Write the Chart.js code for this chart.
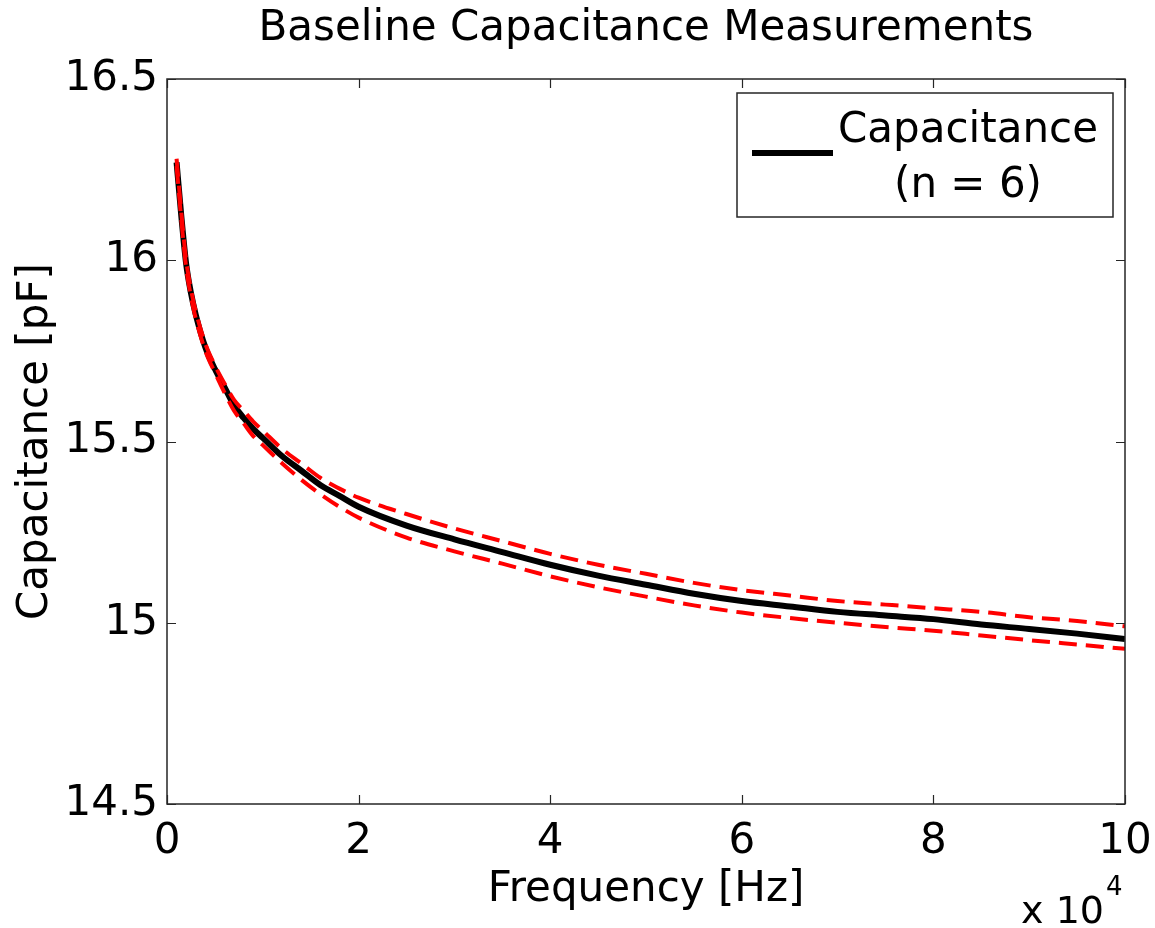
<!DOCTYPE html>
<html>
<head>
<meta charset="utf-8">
<title>Baseline Capacitance Measurements</title>
<script src="https://cdn.jsdelivr.net/npm/chart.js@4.4.1/dist/chart.umd.min.js"></script>
<style>
  html, body { margin: 0; padding: 0; background: #fff; }
  #wrap { width: 1155px; height: 928px; }
</style>
</head>
<body>
<div id="wrap"><canvas id="capChart" width="1155" height="928"></canvas></div>
<script>
// frequency in Hz, capacitance in pF
const freqs = [1000, 1500, 2000, 2500, 3000, 4000, 5000, 6000, 7000, 8000, 9000, 10000,
  12000, 14000, 16000, 18000, 20000, 25000, 30000, 35000, 40000, 45000, 50000, 55000,
  60000, 65000, 70000, 75000, 80000, 85000, 90000, 95000, 100000];

const meanCap = [16.27, 16.12, 15.99, 15.91, 15.85, 15.76, 15.70, 15.65, 15.60, 15.565, 15.535, 15.51,
  15.46, 15.42, 15.38, 15.35, 15.32, 15.268, 15.23, 15.195, 15.16, 15.13, 15.105, 15.08,
  15.06, 15.045, 15.03, 15.02, 15.01, 14.995, 14.983, 14.97, 14.955];

const upperCap = [16.28, 16.13, 16.00, 15.92, 15.86, 15.77, 15.71, 15.66, 15.615, 15.585, 15.555, 15.53,
  15.48, 15.44, 15.40, 15.37, 15.345, 15.30, 15.26, 15.225, 15.19, 15.16, 15.135, 15.11,
  15.09, 15.075, 15.06, 15.05, 15.04, 15.03, 15.015, 15.005, 14.99];

const lowerCap = [16.26, 16.11, 15.98, 15.90, 15.84, 15.75, 15.69, 15.635, 15.585, 15.55, 15.515, 15.49,
  15.44, 15.395, 15.355, 15.32, 15.29, 15.235, 15.197, 15.163, 15.128, 15.098, 15.072, 15.048,
  15.028, 15.013, 15.00, 14.988, 14.978, 14.965, 14.952, 14.94, 14.928];

const xTicks = [0, 20000, 40000, 60000, 80000, 100000];
const yTicks = [14.5, 15, 15.5, 16, 16.5];

const FONT = "'DejaVu Sans', 'Liberation Sans', Arial, sans-serif";

function toXY(ys) {
  return freqs.map((f, i) => ({ x: f, y: ys[i] }));
}

// matlab style box, inward ticks on all four sides, title, exponent and legend
const matlabFrame = {
  id: 'matlabFrame',
  afterDraw(chart) {
    const ctx = chart.ctx;
    const a = chart.chartArea;
    const xs = chart.scales.x;
    const ys = chart.scales.y;
    const tl = 9;

    ctx.save();
    ctx.strokeStyle = '#262626';
    ctx.lineWidth = 1.5;
    ctx.strokeRect(a.left, a.top, a.right - a.left, a.bottom - a.top);

    ctx.beginPath();
    xTicks.forEach(v => {
      const px = Math.round(xs.getPixelForValue(v)) + 0.5;
      ctx.moveTo(px, a.bottom); ctx.lineTo(px, a.bottom - tl);
      ctx.moveTo(px, a.top); ctx.lineTo(px, a.top + tl);
    });
    yTicks.forEach(v => {
      const py = Math.round(ys.getPixelForValue(v)) + 0.5;
      ctx.moveTo(a.left, py); ctx.lineTo(a.left + tl, py);
      ctx.moveTo(a.right, py); ctx.lineTo(a.right - tl, py);
    });
    ctx.lineWidth = 1.2;
    ctx.stroke();

    // title
    ctx.fillStyle = '#000';
    ctx.font = '42px ' + FONT;
    ctx.textAlign = 'center';
    ctx.textBaseline = 'middle';
    ctx.fillText('Baseline Capacitance Measurements', (a.left + a.right) / 2, 29);

    // exponent label under the x axis
    ctx.font = '38px ' + FONT;
    ctx.textAlign = 'right';
    ctx.textBaseline = 'alphabetic';
    ctx.fillText('x 10', a.right - 21, 923);
    ctx.font = '26px ' + FONT;
    ctx.textAlign = 'left';
    ctx.fillText('4', a.right - 19, 895);

    // legend
    const ds = chart.data.datasets[0];
    const bx = a.right - 388, by = a.top + 14, bw = 376, bh = 124;
    ctx.fillStyle = '#fff';
    ctx.fillRect(bx, by, bw, bh);
    ctx.strokeStyle = '#262626';
    ctx.lineWidth = 1.5;
    ctx.strokeRect(bx, by, bw, bh);

    ctx.strokeStyle = ds.borderColor;
    ctx.lineWidth = ds.borderWidth;
    ctx.beginPath();
    ctx.moveTo(bx + 15, by + 60);
    ctx.lineTo(bx + 96, by + 60);
    ctx.stroke();

    ctx.fillStyle = '#000';
    ctx.font = '42px ' + FONT;
    ctx.textAlign = 'center';
    ctx.textBaseline = 'middle';
    ds.label.forEach((line, i) => {
      ctx.fillText(line, bx + 231, by + 38 + i * 55);
    });
    ctx.restore();
  }
};

const ctx = document.getElementById('capChart').getContext('2d');
window.myChart = new Chart(ctx, {
  type: 'line',
  data: {
    datasets: [
      {
        label: ['Capacitance', '(n = 6)'],
        data: toXY(meanCap),
        borderColor: '#000000',
        borderWidth: 6,
        pointRadius: 0,
        cubicInterpolationMode: 'monotone',
        order: 2
      },
      {
        label: 'upper',
        data: toXY(upperCap),
        borderColor: '#ff0000',
        borderWidth: 4,
        borderDash: [18, 9],
        pointRadius: 0,
        cubicInterpolationMode: 'monotone',
        order: 1
      },
      {
        label: 'lower',
        data: toXY(lowerCap),
        borderColor: '#ff0000',
        borderWidth: 4,
        borderDash: [18, 9],
        pointRadius: 0,
        cubicInterpolationMode: 'monotone',
        order: 1
      }
    ]
  },
  options: {
    responsive: false,
    animation: false,
    layout: { padding: { top: 79, right: 30, left: 0, bottom: 0 } },
    plugins: {
      legend: { display: false },
      title: { display: false },
      tooltip: { enabled: false }
    },
    scales: {
      x: {
        type: 'linear',
        min: 0,
        max: 100000,
        afterFit: s => { s.height = 124; s.paddingLeft = 0; s.paddingRight = 0; },
        afterBuildTicks: s => { s.ticks = xTicks.map(v => ({ value: v })); },
        grid: { display: false, drawTicks: false },
        border: { display: false },
        ticks: {
          color: '#000',
          font: { family: FONT, size: 42 },
          padding: 13,
          maxRotation: 0,
          callback: v => String(v / 10000)
        },
        title: {
          display: true,
          text: 'Frequency [Hz]',
          color: '#000',
          font: { family: FONT, size: 42 },
          padding: { top: 0, bottom: 13 }
        }
      },
      y: {
        type: 'linear',
        min: 14.5,
        max: 16.5,
        afterFit: s => { s.width = 167; },
        afterBuildTicks: s => { s.ticks = yTicks.map(v => ({ value: v })); },
        grid: { display: false, drawTicks: false },
        border: { display: false },
        ticks: {
          color: '#000',
          font: { family: FONT, size: 42 },
          padding: 9,
          callback: v => String(v)
        },
        title: {
          display: true,
          text: 'Capacitance [pF]',
          color: '#000',
          font: { family: FONT, size: 42 },
          padding: { top: 11, bottom: 0 }
        }
      }
    }
  },
  plugins: [matlabFrame]
});
</script>
</body>
</html>
